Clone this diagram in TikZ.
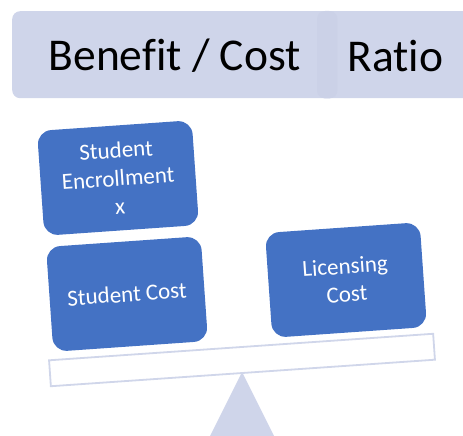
\documentclass[tikz,border=0pt]{standalone}
\usepackage{fontspec}
\setmainfont[Ligatures={NoCommon}]{Carlito}
\definecolor{lav}{HTML}{CFD5EA}
\definecolor{lavdark}{HTML}{CBD1E7}
\definecolor{lavline}{HTML}{D0D6EA}
\definecolor{boxblue}{HTML}{4472C4}
\tikzset{
  titlebox/.style={fill=lav, rounded corners=8pt, inner sep=0pt},
  titletext/.style={font=\fontsize{45.5}{52}\selectfont, text=black},
  weight/.style={fill=boxblue, rounded corners=14pt, rotate=4,
    minimum width=155pt, minimum height=105pt, inner sep=0pt,
    text=white, align=center, font=\fontsize{23}{28}\selectfont},
  beam/.style={draw=lavline, line width=1.8pt, fill=white, rotate=3.95,
    minimum width=385pt, minimum height=26pt, inner sep=0pt},
}
\begin{document}
\begin{tikzpicture}[x=1pt, y=-1pt]
  \useasboundingbox (0,0) rectangle (463,436);
  \clip (0,0) rectangle (463,436);
  % heading bar made of two overlapping pieces
  \node[titlebox, minimum width=156pt, minimum height=87pt, anchor=north west]
    (ratio) at (317,11) {};
  \node[titlebox, minimum width=325pt, minimum height=87pt, anchor=north west]
    (benefit) at (12,11) {};
  \begin{scope}
    \clip[rounded corners=8pt] (ratio.north west) rectangle (ratio.south east);
    \fill[lavdark, rounded corners=8pt] (benefit.north west) rectangle (benefit.south east);
  \end{scope}
  \node[titletext] (benefittext) at ([yshift=-1pt]benefit.center) {Benefit / Cost};
  \node[titletext] (ratiotext) at ([yshift=-1pt]ratio.center) {Ratio};
  % fulcrum and beam
  \coordinate (apex) at (242,372);
  \fill[lav] (apex) -- (206,444) -- (278,444) -- cycle;
  \node[beam] (plank) at (242,360) {};
  % weights
  \node[weight] (enroll) at (118,178) {Student\\Encrollment\\x};
  \node[weight] (scost) at (127,294) {Student Cost};
  \node[weight] (lcost) at (346,280) {Licensing\\Cost};
\end{tikzpicture}
\end{document}
